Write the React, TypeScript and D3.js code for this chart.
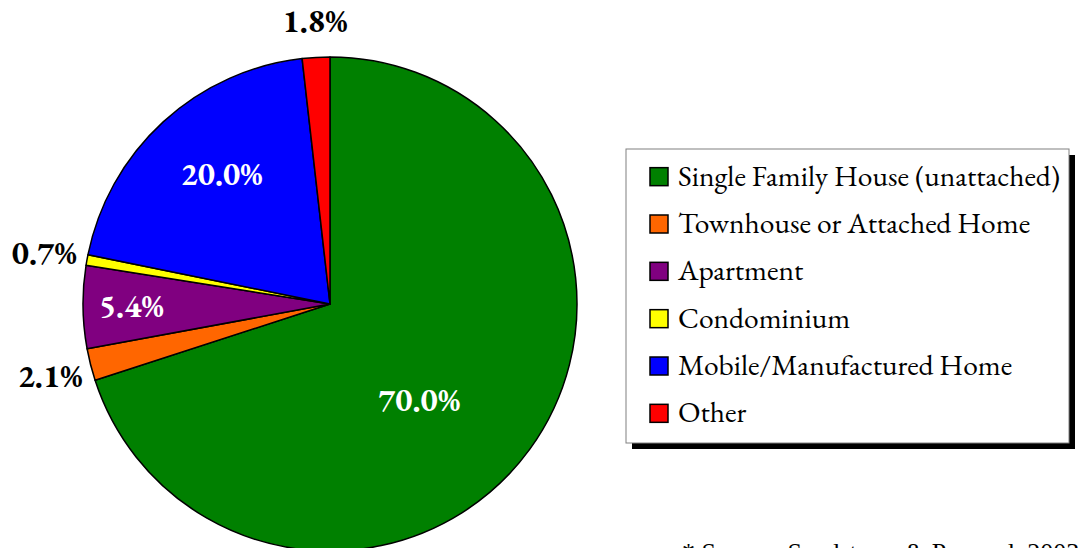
import React from 'react';
import * as d3 from 'd3';

const categories = [
  'Single Family House (unattached)',
  'Townhouse or Attached Home',
  'Apartment',
  'Condominium',
  'Mobile/Manufactured Home',
  'Other',
];
const shares = [70.0, 2.1, 5.4, 0.7, 20.0, 1.8];
const colors = ['#008000', '#FF6600', '#800080', '#FFFF00', '#0000FF', '#FF0000'];
// label placement: inside (white) or outside (black)
const labelInside = [true, false, true, false, true, false];

const W = 1078, H = 548;
const cx = 330, cy = 304, r = 247;
const garamond = '"EB Garamond"';
const times = '"Liberation Serif"';

const App = () => {
  const pie = d3.pie<number>().sort(null).value(d => d);
  const arcs = pie(shares);
  const arc = d3.arc<any>().innerRadius(0).outerRadius(r);

  // label radii / nudges tuned to the original layout (text baseline)
  const labelR = [140, 270, 200, 275, 167, 280];
  const nudge = [[-24, 25], [-18, 17], [1.5, 10.6], [-15, 9], [4.5, 4], [1, 7.5]];

  const lx = 626, ly = 149, lw = 443, lh = 294;
  const row = d3.scaleBand().domain(categories).range([ly + 5, ly + lh - 5]);

  return (
    <div style={{ position: 'absolute', left: 0, top: 0 }}>
      <svg width={W} height={H} style={{ display: 'block', background: '#fff' }}>
        <g transform={`translate(${cx},${cy})`}>
          {arcs.map((d, i) => (
            <path key={i} d={arc(d) as string} fill={colors[i]} stroke="#000" strokeWidth={1.5} strokeLinejoin="round" />
          ))}
          {arcs.map((d, i) => {
            const mid = (d.startAngle + d.endAngle) / 2;
            const x = Math.sin(mid) * labelR[i] + nudge[i][0];
            const y = -Math.cos(mid) * labelR[i] + nudge[i][1];
            return (
              <text key={'l' + i} x={x} y={y} textAnchor="middle"
                style={{ fontFamily: garamond, fontWeight: 'bold', fontSize: 32.5 }}
                fill={labelInside[i] ? '#fff' : '#000'}>
                {d3.format('.1f')(shares[i]) + '%'}
              </text>
            );
          })}
        </g>

        <rect x={lx + 6} y={ly + 6} width={lw} height={lh} fill="#000" />
        <rect x={lx} y={ly} width={lw} height={lh} fill="#fff" stroke="#808080" strokeWidth={1} />
        {categories.map((c, i) => {
          const yc = row(c)! + row.bandwidth() / 2 - 1;
          return (
            <g key={c} transform={`translate(${lx + 24},${yc})`}>
              <rect x={0} y={-9} width={18} height={18} fill={colors[i]} stroke="#000" strokeWidth={1.5} />
              <text x={28} y={9} fill="#000" style={{ fontFamily: garamond, fontSize: 29.5 }}>{c}</text>
            </g>
          );
        })}

        <text x={682} y={561} fill="#000" style={{ fontFamily: times, fontSize: 26 }}>
          * Source: Sandstrom &amp; Pazzard, 2003
        </text>
      </svg>
    </div>
  );
};

export default App;
